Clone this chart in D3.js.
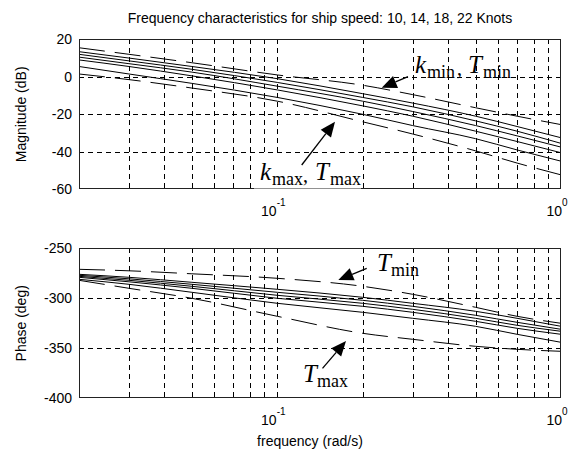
<!DOCTYPE html>
<html>
<head>
<meta charset="utf-8">
<script src="https://cdn.jsdelivr.net/npm/d3@7"></script>
<style>
  html, body { margin: 0; padding: 0; background: #fff; }
  svg { display: block; }
  .tick-label { font-family: "Liberation Sans", Arial, sans-serif; font-size: 14px; fill: #000; }
  .note { font-family: "Liberation Serif", "Times New Roman", serif; fill: #000; }
</style>
</head>
<body>
<svg id="chart" width="578" height="450"></svg>
<script>
// Frequency points (rad/s) at which the responses were read
const freq = [0.02, 0.03, 0.05, 0.1, 0.2, 0.3, 0.5, 0.7, 1];

// Magnitude (dB): nominal responses for the ship speeds
const magNominal = [
  [13.4, 10, 5.5, -1, -9, -14, -21, -26.5, -32.5],
  [12, 8.5, 4, -3, -11, -16, -23.5, -29, -35.5],
  [10.5, 7, 2.5, -5, -13, -18.5, -26, -31.5, -37.5],
  [9, 5.5, 0.5, -7, -15.5, -21, -29, -34.5, -40.5],
  [5.5, 1.5, -3.5, -11, -20, -26, -33, -39, -45]
];
// Magnitude (dB): bounding responses
const magKminTmin = [15.5, 12, 7.5, 1, -4.5, -9.5, -16.5, -21, -25.5];
const magKmaxTmax = [1.5, -1.5, -6, -13, -24, -30.5, -39.5, -46, -52.3];

// Phase (deg): nominal responses for the ship speeds
const phaseNominal = [
  [-276, -279, -284, -291, -299, -305, -313, -320, -328],
  [-277, -280.5, -286, -294, -302, -308, -317, -324, -331],
  [-278, -282, -288, -297, -305, -311, -320, -327, -333],
  [-279, -283.5, -290, -300, -308, -314, -323, -330, -336],
  [-281, -286, -294, -305, -314, -320, -328, -336, -344]
];
// Phase (deg): bounding responses
const phaseTmin = [-271, -272.5, -275.5, -280, -288, -296, -309, -318, -325];
const phaseTmax = [-282, -290, -300, -318, -335, -341, -348, -351, -353];

// Axis ticks
const magTicks = [20, 0, -20, -40, -60];
const phaseTicks = [-250, -300, -350, -400];
const decadeTicks = [0.1, 1];
const decadeLabels = [["10", "-1"], ["10", "0"]];
const gridFreqs = [0.03, 0.04, 0.05, 0.06, 0.07, 0.08, 0.09, 0.1, 0.2, 0.3, 0.4, 0.5, 0.6, 0.7, 0.8, 0.9];

const titleText = "Frequency characteristics for ship speed: 10, 14, 18, 22 Knots";

const svg = d3.select("#chart");

const left = 79, right = 561;
const x = d3.scaleLog().domain([0.02, 1]).range([left, right]);

function panel(id, top, bottom, domain, ticks, gridY, nominal, bounds, ylabel) {
  const y = d3.scaleLinear().domain(domain).range([bottom, top]);
  const g = svg.append("g");

  g.append("clipPath").attr("id", id)
    .append("rect").attr("x", left).attr("y", top)
    .attr("width", right - left).attr("height", bottom - top);

  // grid
  const grid = g.append("g").attr("stroke", "#000").attr("stroke-width", 1)
    .attr("stroke-dasharray", "5,4").attr("shape-rendering", "crispEdges");
  grid.selectAll("line.v").data(gridFreqs).join("line")
    .attr("x1", d => Math.round(x(d)) + 0.5).attr("x2", d => Math.round(x(d)) + 0.5)
    .attr("y1", top).attr("y2", bottom);
  grid.selectAll("line.h").data(gridY).join("line")
    .attr("y1", d => Math.round(y(d)) + 0.5).attr("y2", d => Math.round(y(d)) + 0.5)
    .attr("x1", left).attr("x2", right);

  const line = d3.line()
    .x((d, i) => x(freq[i]))
    .y(d => y(d))
    .curve(d3.curveMonotoneX);

  const lines = g.append("g").attr("clip-path", `url(#${id})`)
    .attr("fill", "none").attr("stroke", "#000").attr("stroke-width", 1);
  lines.selectAll("path.nom").data(nominal).join("path")
    .attr("d", line);
  lines.selectAll("path.bound").data(bounds).join("path")
    .attr("d", line).attr("stroke-dasharray", "26,10");

  // frame
  g.append("rect").attr("x", left + 0.5).attr("y", Math.round(top) + 0.5)
    .attr("width", right - left - 1).attr("height", Math.round(bottom) - Math.round(top) - 1)
    .attr("fill", "none").attr("stroke", "#222").attr("stroke-width", 1);

  // y tick labels
  g.selectAll("text.yt").data(ticks).join("text")
    .attr("class", "tick-label")
    .attr("x", left - 7).attr("y", d => y(d) + 5)
    .attr("text-anchor", "end").text(d => d);

  // x decade labels
  decadeTicks.forEach((f, i) => {
    const t = g.append("text").attr("class", "tick-label")
      .attr("x", x(f) - 4).attr("y", bottom + 27).attr("text-anchor", "middle");
    t.append("tspan").text(decadeLabels[i][0]);
    t.append("tspan").attr("dy", -10).attr("font-size", 10).text(decadeLabels[i][1]);
  });

  // y label
  g.append("text").attr("class", "tick-label")
    .attr("transform", `translate(26,${(top + bottom) / 2}) rotate(-90)`)
    .attr("text-anchor", "middle").text(ylabel);

  return y;
}

panel("clipMag", 39.3, 189.3, [-60, 20], magTicks, [0, -20, -40],
  magNominal, [magKminTmin, magKmaxTmax], "Magnitude (dB)");
panel("clipPhase", 248.3, 398.3, [-400, -250], phaseTicks, [-300, -350],
  phaseNominal, [phaseTmin, phaseTmax], "Phase (deg)");

svg.append("text").attr("class", "tick-label")
  .attr("x", 320).attr("y", 23).attr("text-anchor", "middle").text(titleText);
svg.append("text").attr("class", "tick-label")
  .attr("x", 310).attr("y", 446).attr("text-anchor", "middle").text("frequency (rad/s)");

// annotations
function label(xp, yp, main, sub, opts) {
  const g = svg.append("g");
  let cx = xp;
  main.forEach((m, i) => {
    g.append("text").attr("class", "note").attr("x", cx).attr("y", yp)
      .attr("font-size", 25).attr("font-style", "italic").text(m);
    cx += opts.mainW[i];
    g.append("text").attr("class", "note").attr("x", cx).attr("y", yp + 5)
      .attr("font-size", 18).text(sub[i]);
    cx += opts.subW[i];
    if (i < main.length - 1) {
      g.append("text").attr("class", "note").attr("x", cx + 2).attr("y", yp + 2)
        .attr("font-size", 20).text(",");
      cx += opts.gap;
    }
  });
  return g;
}

function arrow(x1, y1, x2, y2) {
  const ang = Math.atan2(y2 - y1, x2 - x1);
  const len = 15, hw = 6.5;
  const bx = x2 - len * Math.cos(ang), by = y2 - len * Math.sin(ang);
  svg.append("line").attr("x1", x1).attr("y1", y1).attr("x2", bx).attr("y2", by)
    .attr("stroke", "#000").attr("stroke-width", 1.3);
  const px = -Math.sin(ang) * hw, py = Math.cos(ang) * hw;
  svg.append("path")
    .attr("d", `M${x2},${y2}L${bx + px},${by + py}L${bx - px},${by - py}Z`)
    .attr("fill", "#000");
}

// white backing behind the lower magnitude note
svg.append("rect").attr("x", 254).attr("y", 155).attr("width", 107).attr("height", 33.5).attr("fill", "#fff");

label(415, 73, ["k", "T"], ["min", "min"], { mainW: [12, 15], subW: [28, 28], gap: 13 });
label(260, 180, ["k", "T"], ["max", "max"], { mainW: [12, 15], subW: [29, 29], gap: 14 });
label(377, 271, ["T"], ["min"], { mainW: [14], subW: [28], gap: 0 });
label(303, 382, ["T"], ["max"], { mainW: [14], subW: [29], gap: 0 });

arrow(408, 76.7, 381.7, 87.7);
arrow(301.7, 165, 335, 121.7);
arrow(366.7, 268.3, 338.3, 280);
arrow(322.5, 368.3, 346, 341);
</script>
</body>
</html>
